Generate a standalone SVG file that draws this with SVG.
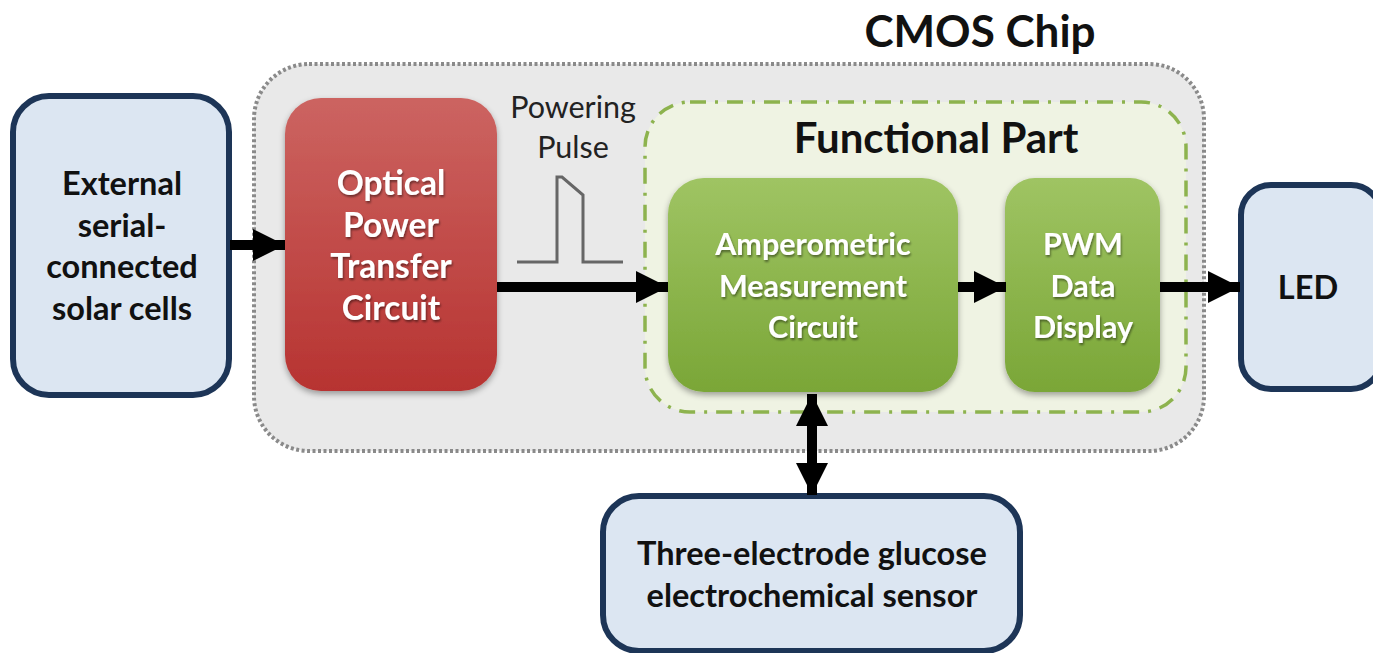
<svg xmlns="http://www.w3.org/2000/svg" width="1373" height="653" viewBox="0 0 1373 653">
  <style>
    .io { fill: #dce6f2; stroke: #1d3557; stroke-width: 6; }
    .lbl { font-family: "Lato", "Liberation Sans", sans-serif; font-weight: bold; text-anchor: middle; }
    .dark { fill: #111; font-size: 32.5px; }
    .light { fill: #fff; font-size: 30.5px; filter: url(#txtShadow); }
    .big { font-size: 33.5px; }
    .wire { stroke: #000; stroke-width: 10; fill: none; }
  </style>
  <defs>
    <linearGradient id="redGrad" x1="0" y1="0" x2="0" y2="1">
      <stop offset="0" stop-color="#cc6461"/>
      <stop offset="1" stop-color="#b73331"/>
    </linearGradient>
    <linearGradient id="greenGrad" x1="0" y1="0" x2="0" y2="1">
      <stop offset="0" stop-color="#9fc463"/>
      <stop offset="1" stop-color="#7aa637"/>
    </linearGradient>
    <filter id="boxShadow" x="-10%" y="-10%" width="120%" height="125%">
      <feGaussianBlur in="SourceAlpha" stdDeviation="3"/>
      <feOffset dx="0" dy="3"/>
      <feComponentTransfer><feFuncA type="linear" slope="0.35"/></feComponentTransfer>
      <feMerge><feMergeNode/><feMergeNode in="SourceGraphic"/></feMerge>
    </filter>
    <filter id="txtShadow" x="-10%" y="-20%" width="120%" height="150%">
      <feGaussianBlur in="SourceAlpha" stdDeviation="1.2"/>
      <feOffset dx="1" dy="2"/>
      <feComponentTransfer><feFuncA type="linear" slope="0.45"/></feComponentTransfer>
      <feMerge><feMergeNode/><feMergeNode in="SourceGraphic"/></feMerge>
    </filter>
    <marker id="head" viewBox="0 0 10 10" refX="10" refY="5" markerWidth="3.2" markerHeight="3.2" orient="auto-start-reverse" markerUnits="strokeWidth">
      <path d="M0,0 L10,5 L0,10 Z" fill="#000"/>
    </marker>
  </defs>

  <rect width="1373" height="653" fill="#fff"/>

  <!-- CMOS chip outline -->
  <g id="cmos-chip">
    <rect x="254" y="64" width="950" height="387" rx="55" fill="#e9e9e9" stroke="#8a8a8a" stroke-width="4" stroke-dasharray="3 2.5"/>
    <text class="lbl" x="980" y="47" font-size="44" fill="#111">CMOS Chip</text>
  </g>

  <!-- Functional part region -->
  <g id="functional-part">
    <rect x="645" y="102" width="541" height="310" rx="45" fill="#eff3e3" stroke="#8db34e" stroke-width="3.5" stroke-dasharray="16 9 3 9"/>
    <text class="lbl" x="936" y="153" font-size="42" fill="#111">Functional Part</text>
  </g>

  <g id="solar-cells">
    <rect class="io" x="13" y="96" width="216" height="299" rx="36"/>
    <text class="lbl dark" x="122" y="195">External</text>
    <text class="lbl dark" x="122" y="237">serial-</text>
    <text class="lbl dark" x="122" y="278">connected</text>
    <text class="lbl dark" x="122" y="320">solar cells</text>
  </g>

  <g id="optical-power">
    <rect x="285" y="98" width="212" height="293" rx="36" fill="url(#redGrad)" filter="url(#boxShadow)"/>
    <text class="lbl light big" x="391" y="195">Optical</text>
    <text class="lbl light big" x="391" y="237">Power</text>
    <text class="lbl light big" x="391" y="278">Transfer</text>
    <text class="lbl light big" x="391" y="320">Circuit</text>
  </g>

  <g id="powering-pulse">
    <text x="573" y="118" font-family="Lato, 'Liberation Sans', sans-serif" font-size="30.5" fill="#222" text-anchor="middle">Powering</text>
    <text x="573" y="158" font-family="Lato, 'Liberation Sans', sans-serif" font-size="30.5" fill="#222" text-anchor="middle">Pulse</text>
    <path d="M517,262 H557 V177 H562 L583,195 V262 H623" fill="none" stroke="#666" stroke-width="3"/>
  </g>

  <g id="amperometric">
    <rect x="668" y="178" width="290" height="214" rx="36" fill="url(#greenGrad)" filter="url(#boxShadow)"/>
    <text class="lbl light" x="813" y="255">Amperometric</text>
    <text class="lbl light" x="813" y="297">Measurement</text>
    <text class="lbl light" x="813" y="338">Circuit</text>
  </g>

  <g id="pwm-display">
    <rect x="1005" y="178" width="155" height="214" rx="30" fill="url(#greenGrad)" filter="url(#boxShadow)"/>
    <text class="lbl light" x="1083" y="255">PWM</text>
    <text class="lbl light" x="1083" y="297">Data</text>
    <text class="lbl light" x="1083" y="338">Display</text>
  </g>

  <g id="led">
    <rect class="io" x="1241" y="185" width="140" height="204" rx="30"/>
    <text class="lbl dark" x="1308" y="299">LED</text>
  </g>

  <g id="glucose-sensor">
    <rect class="io" x="603" y="496" width="417" height="155" rx="36"/>
    <text class="lbl dark" x="812" y="565">Three-electrode glucose</text>
    <text class="lbl dark" x="812" y="607">electrochemical sensor</text>
  </g>

  <!-- connectors -->
  <g id="connectors">
    <line class="wire" x1="230" y1="245" x2="285" y2="245" marker-end="url(#head)"/>
    <line class="wire" x1="497" y1="287" x2="668" y2="287" marker-end="url(#head)"/>
    <line class="wire" x1="958" y1="287" x2="1006" y2="287" marker-end="url(#head)"/>
    <line class="wire" x1="1160" y1="287" x2="1240" y2="287" marker-end="url(#head)"/>
    <line class="wire" x1="812" y1="394" x2="812" y2="495" marker-start="url(#head)" marker-end="url(#head)"/>
  </g>
</svg>
